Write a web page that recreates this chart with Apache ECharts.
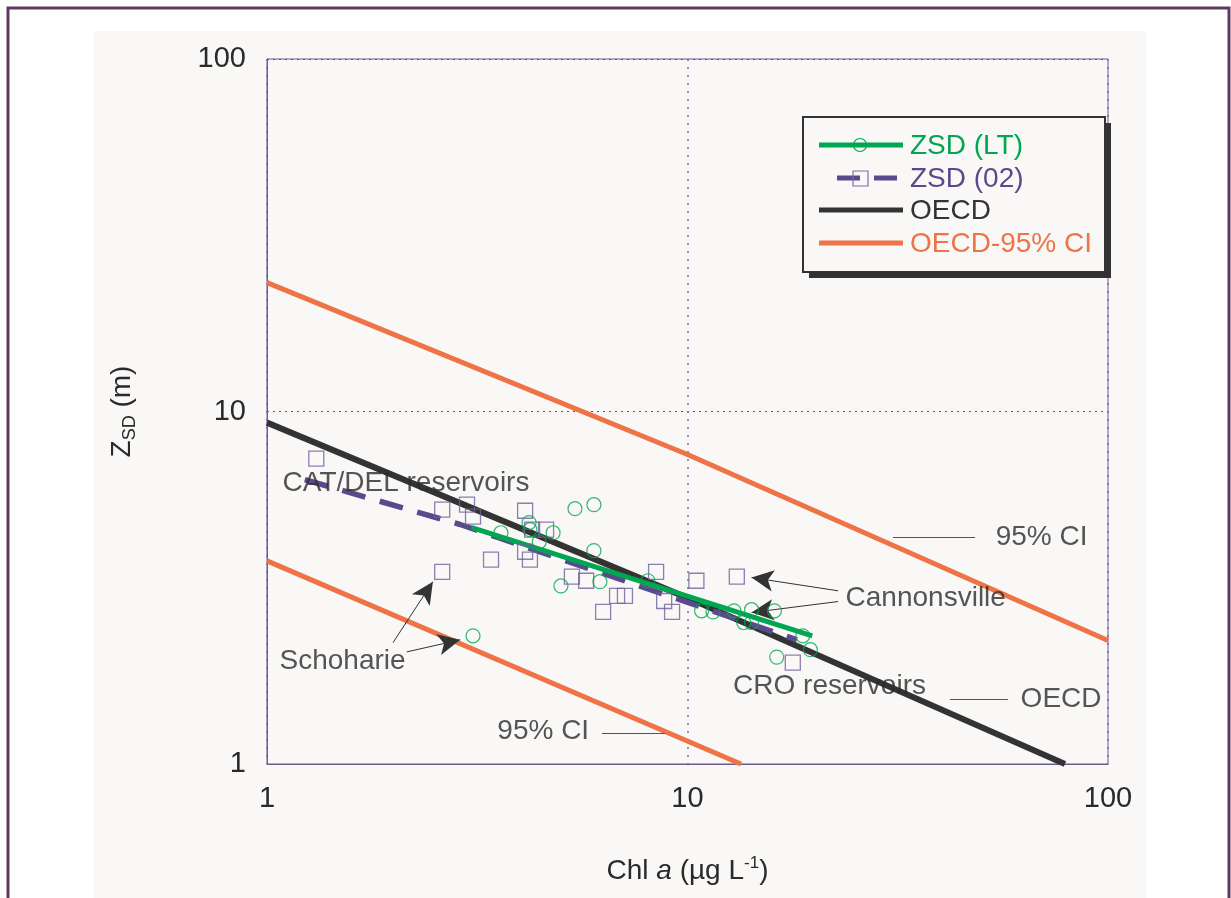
<!DOCTYPE html>
<html>
<head>
<meta charset="utf-8">
<script src="https://cdn.jsdelivr.net/npm/echarts@6/dist/echarts.min.js"></script>
<style>
  html, body { margin: 0; padding: 0; background: #ffffff; }
  #chart { width: 1231px; height: 898px; }
</style>
</head>
<body>
<div id="chart"></div>
<script>
const FONT = '"Liberation Sans", Arial, Helvetica, sans-serif';

// Reservoir means: chlorophyll a (ug/L) vs Secchi depth (m)
const ltChl = [5.40, 5.99, 4.20, 4.22, 4.79, 3.60, 4.44, 5.99, 5.00, 6.19, 8.05,
               10.8, 11.5, 12.9, 14.2, 16.1, 13.6, 14.2, 18.8, 19.6, 16.3, 3.09];
const ltZsd = [5.30, 5.44, 4.84, 4.62, 4.53, 4.53, 4.27, 4.03, 3.20, 3.29, 3.31,
               2.72, 2.70, 2.72, 2.74, 2.72, 2.52, 2.52, 2.31, 2.11, 2.01, 2.31];

const y02Chl = [1.31, 2.61, 2.99, 3.09, 4.11, 4.61, 4.27, 3.41, 4.11, 4.22, 2.61,
                5.31, 5.74, 6.80, 7.10, 6.30, 8.42, 8.80, 9.19, 10.5, 13.1, 17.8];
const y02Zsd = [7.35, 5.27, 5.44, 5.03, 5.23, 4.62, 4.62, 3.80, 4.00, 3.80, 3.51,
                3.40, 3.31, 3.00, 3.00, 2.70, 3.51, 2.90, 2.70, 3.31, 3.40, 1.94];

// Fitted relationships
const ltFitChl = [3.07, 19.8];
const ltFitZsd = [4.68, 2.31];
const fit02Chl = [1.23, 2.88, 18.2];
const fit02Zsd = [6.41, 4.78, 2.25];

// OECD model and its 95% confidence interval
const oecdChl = [1, 10, 79];
const oecdZsd = [9.30, 2.96, 1];
const ciUpperChl = [1, 10, 100];
const ciUpperZsd = [23.2, 7.55, 2.24];
const ciLowerChl = [1, 13.4];
const ciLowerZsd = [3.77, 1];

const axisTicks = [1, 10, 100];

// Text notes, arrows and leader lines (chl, zsd)
const noteTexts = ['CAT/DEL reservoirs', '95% CI', 'Cannonsville', 'Schoharie',
                   'CRO reservoirs', 'OECD', '95% CI'];
const noteAt = [[1.086, 6.24], [53.9, 4.39], [23.7, 2.96], [1.068, 1.95],
                [12.8, 1.666], [61.8, 1.53], [3.52, 1.24]];
const arrowFrom = [[22.8, 3.10], [22.8, 2.89], [1.994, 2.21], [2.15, 2.08]];
const arrowTo = [[14.2, 3.38], [14.2, 2.69], [2.48, 3.29], [2.88, 2.25]];
const leaderFrom = [[30.8, 4.41], [42.1, 1.53], [6.26, 1.225]];
const leaderTo = [[48.3, 4.41], [57.8, 1.53], [8.84, 1.225]];

const C_GREEN = '#00a651';
const C_PURPLE = '#5b4a8b';
const C_BLACK = '#333333';
const C_ORANGE = '#ee7346';
const C_TEXT = '#2a2a2a';
const C_PANEL = '#f9f8f7';
const C_FRAME = '#6b5b95';

const zip = (xs, ys) => xs.map((x, i) => [x, ys[i]]);

function lineSeries(name, xs, ys, color, width, dash) {
  return {
    name, type: 'line', data: zip(xs, ys), symbol: 'none', silent: true,
    lineStyle: { color, width, type: dash || 'solid', cap: 'butt' },
    z: 3
  };
}

const chart = echarts.init(document.getElementById('chart'), null, { renderer: 'canvas' });

const legendRows = [
  { text: 'ZSD (LT)', color: C_GREEN, y: 145 },
  { text: 'ZSD (02)', color: C_PURPLE, y: 178 },
  { text: 'OECD', color: C_BLACK, y: 210 },
  { text: 'OECD-95% CI', color: C_ORANGE, y: 243 }
];

const legendGraphics = [
  { type: 'rect', shape: { x: 809, y: 123, width: 302, height: 155 }, style: { fill: '#333' }, z: 50 },
  { type: 'rect', shape: { x: 803, y: 117, width: 302, height: 155 },
    style: { fill: C_PANEL, stroke: '#333', lineWidth: 2 }, z: 51 },
  // ZSD (LT): solid line with circle
  { type: 'line', shape: { x1: 819, y1: 145, x2: 903, y2: 145 }, style: { stroke: C_GREEN, lineWidth: 5 }, z: 52 },
  { type: 'circle', shape: { cx: 860, cy: 145, r: 6.5 }, style: { fill: 'rgba(0,0,0,0)', stroke: C_GREEN, lineWidth: 1.2 }, z: 53 },
  // ZSD (02): dashed line with square
  { type: 'line', shape: { x1: 837, y1: 178, x2: 860, y2: 178 }, style: { stroke: C_PURPLE, lineWidth: 5 }, z: 52 },
  { type: 'line', shape: { x1: 874, y1: 178, x2: 897, y2: 178 }, style: { stroke: C_PURPLE, lineWidth: 5 }, z: 52 },
  { type: 'rect', shape: { x: 853, y: 171, width: 15, height: 15 }, style: { fill: 'rgba(0,0,0,0)', stroke: '#7d6fa8', lineWidth: 1.2 }, z: 53 },
  // OECD
  { type: 'line', shape: { x1: 819, y1: 210, x2: 903, y2: 210 }, style: { stroke: C_BLACK, lineWidth: 5 }, z: 52 },
  // OECD-95% CI
  { type: 'line', shape: { x1: 819, y1: 243, x2: 903, y2: 243 }, style: { stroke: C_ORANGE, lineWidth: 5 }, z: 52 }
].concat(legendRows.map(r => ({
  type: 'text', x: 910, y: r.y + 1, z: 53,
  style: { text: r.text, fill: r.color, font: '28px ' + FONT, textVerticalAlign: 'middle', textAlign: 'left' }
})));

const option = {
  backgroundColor: '#ffffff',
  animation: false,
  textStyle: { fontFamily: FONT },
  graphic: [
    { type: 'rect', shape: { x: 8, y: 8, width: 1221, height: 910 },
      style: { fill: '#ffffff', stroke: '#5e3a60', lineWidth: 3 }, z: -10 },
    { type: 'rect', shape: { x: 94, y: 31, width: 1052, height: 880 },
      style: { fill: C_PANEL }, z: -9 }
  ].concat(legendGraphics),
  grid: {
    left: 267, right: 123, top: 59, bottom: 134,
    show: true, borderColor: C_FRAME, borderWidth: 1, backgroundColor: 'transparent'
  },
  xAxis: {
    type: 'log', logBase: 10, min: axisTicks[0], max: axisTicks[axisTicks.length - 1],
    axisLine: { show: true, lineStyle: { color: C_FRAME, width: 1 } },
    axisTick: { show: false },
    axisLabel: { fontSize: 29, color: C_TEXT, margin: 20, fontFamily: FONT },
    splitLine: { show: true, lineStyle: { color: '#7a6aa8', type: [2, 6], width: 1.5 } },
    name: '{t|Chl }{i|a}{t| (µg L}{sup|-1}{t|)}',
    nameLocation: 'middle', nameGap: 91,
    nameTextStyle: {
      rich: {
        t: { fontSize: 28, color: C_TEXT, fontFamily: FONT, lineHeight: 32 },
        i: { fontSize: 28, color: C_TEXT, fontFamily: FONT, fontStyle: 'italic', lineHeight: 32 },
        sup: { fontSize: 17, color: C_TEXT, fontFamily: FONT, verticalAlign: 'top', lineHeight: 32 }
      }
    }
  },
  yAxis: {
    type: 'log', logBase: 10, min: axisTicks[0], max: axisTicks[axisTicks.length - 1],
    axisLine: { show: true, lineStyle: { color: C_FRAME, width: 1 } },
    axisTick: { show: false },
    axisLabel: { fontSize: 29, color: C_TEXT, margin: 21, fontFamily: FONT },
    splitLine: { show: true, lineStyle: { color: '#555', type: [2, 4], width: 1 } },
    name: '{z|Z}{sub|SD}{z| (m)}',
    nameLocation: 'middle', nameGap: 128,
    nameTextStyle: {
      rich: {
        z: { fontSize: 28, color: C_TEXT, fontFamily: FONT, lineHeight: 34 },
        sub: { fontSize: 18, color: C_TEXT, fontFamily: FONT, verticalAlign: 'bottom', lineHeight: 34 }
      }
    }
  },
  series: [
    lineSeries('OECD-95% CI upper', ciUpperChl, ciUpperZsd, C_ORANGE, 5),
    lineSeries('OECD-95% CI lower', ciLowerChl, ciLowerZsd, C_ORANGE, 5),
    lineSeries('OECD', oecdChl, oecdZsd, C_BLACK, 6),
    lineSeries('ZSD (02) fit', fit02Chl, fit02Zsd, C_PURPLE, 5.5, [24, 15]),
    lineSeries('ZSD (LT) fit', ltFitChl, ltFitZsd, C_GREEN, 5),
    {
      name: 'ZSD (02)', type: 'scatter', data: zip(y02Chl, y02Zsd),
      symbol: 'rect', symbolSize: 15, silent: true, z: 4,
      itemStyle: { color: 'rgba(0,0,0,0)', borderColor: '#6f609c', borderWidth: 1.3 }
    },
    {
      name: 'ZSD (LT)', type: 'scatter', data: zip(ltChl, ltZsd),
      symbol: 'circle', symbolSize: 14, silent: true, z: 5,
      itemStyle: { color: 'rgba(0,0,0,0)', borderColor: C_GREEN, borderWidth: 1.2 }
    },
    {
      name: 'notes', type: 'scatter', silent: true, z: 6,
      data: noteAt.map((p, i) => ({ value: p, name: noteTexts[i] })),
      symbolSize: 1, itemStyle: { color: 'rgba(0,0,0,0)' },
      label: {
        show: true, position: 'right', distance: 0, formatter: '{b}',
        fontSize: 28, color: C_TEXT, fontFamily: FONT
      },
      markLine: {
        silent: true, animation: false,
        label: { show: false },
        lineStyle: { color: '#333', width: 1, type: 'solid' },
        symbolSize: [16, 22],
        data: arrowFrom.map((p, i) => [
          { coord: p, symbol: 'none' },
          { coord: arrowTo[i], symbol: 'arrow' }
        ]).concat(leaderFrom.map((p, i) => [
          { coord: p, symbol: 'none', lineStyle: { color: '#555', width: 1 } },
          { coord: leaderTo[i], symbol: 'none' }
        ]))
      }
    }
  ]
};

chart.setOption(option);
</script>
</body>
</html>
